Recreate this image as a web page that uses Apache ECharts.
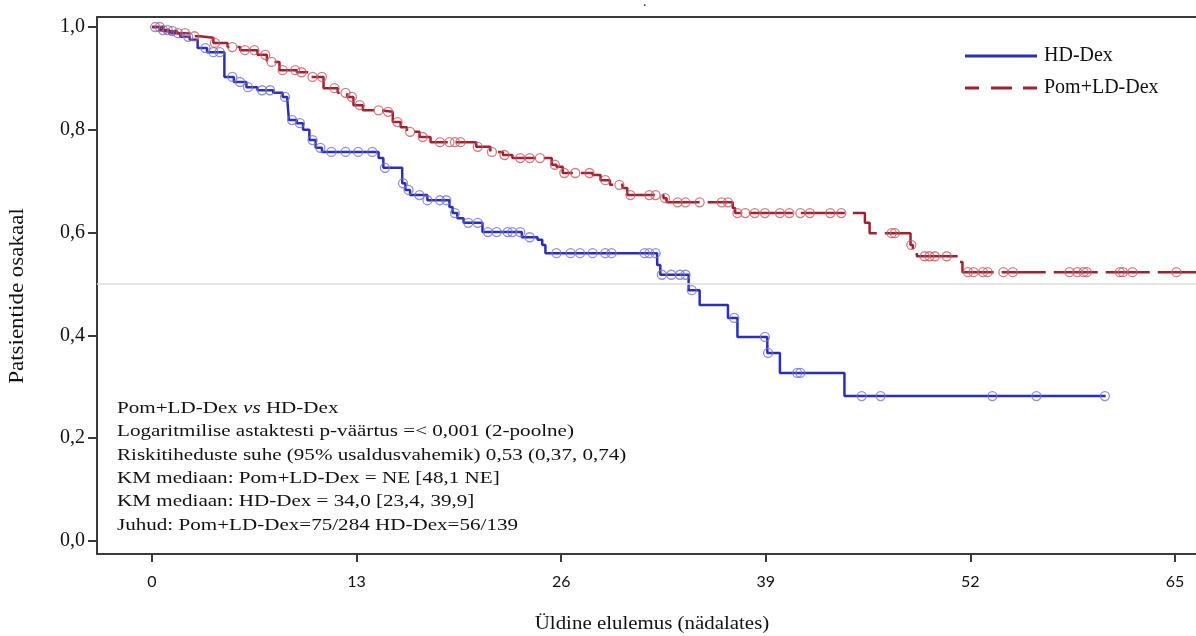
<!DOCTYPE html>
<html>
<head>
<meta charset="utf-8">
<script src="https://cdn.jsdelivr.net/npm/echarts@6/dist/echarts.min.js"></script>
<style>
  html, body { margin: 0; padding: 0; background: #fff; }
  #chart { width: 1196px; height: 636px; }
</style>
</head>
<body>
<div id="chart"></div>
<script>
// Kaplan-Meier steps [week, survival]
const hdDexSteps = [
  [0, 1], [0.5, 0.994], [1.1, 0.988], [1.8, 0.981], [2.4, 0.975], [2.9, 0.959],
  [3.5, 0.951], [4.6, 0.903], [5.2, 0.893], [6.0, 0.883], [6.7, 0.877], [7.7, 0.872],
  [8.3, 0.864], [8.6, 0.858], [8.7, 0.819], [9.2, 0.813], [9.6, 0.800], [10.0, 0.780],
  [10.4, 0.765], [10.8, 0.757], [14.4, 0.745], [14.7, 0.726], [15.9, 0.696], [16.1, 0.683],
  [16.4, 0.673], [17.5, 0.663], [18.9, 0.650], [19.1, 0.638], [19.4, 0.628], [19.8, 0.619],
  [21.0, 0.601], [23.5, 0.591], [24.5, 0.586], [24.8, 0.576], [25.0, 0.560], [32.1, 0.537],
  [32.3, 0.518], [34.1, 0.488], [34.8, 0.459], [36.6, 0.434], [37.2, 0.397], [39.1, 0.366],
  [39.9, 0.327], [44.0, 0.282], [60.6, 0.282]
];
const hdDexCensored = [
  [0.2, 1.0], [0.7, 0.994], [1.0, 0.994], [1.65, 0.988], [2.3, 0.981], [3.4, 0.959],
  [3.9, 0.951], [4.3, 0.951], [5.1, 0.903], [5.6, 0.893], [6.1, 0.883], [7.0, 0.877],
  [7.5, 0.877], [8.45, 0.864], [8.9, 0.819], [9.4, 0.813], [10.2, 0.780], [10.7, 0.765],
  [11.4, 0.757], [12.3, 0.757], [13.1, 0.757], [14.0, 0.757], [14.8, 0.726], [15.95, 0.696],
  [16.3, 0.683], [17.0, 0.673], [17.5, 0.663], [18.3, 0.663], [18.7, 0.663], [19.25, 0.638],
  [20.1, 0.619], [20.7, 0.619], [21.35, 0.601], [21.9, 0.601], [22.6, 0.601], [22.9, 0.601],
  [23.4, 0.601], [24.0, 0.591], [25.7, 0.560], [26.6, 0.560], [27.2, 0.560], [28.0, 0.560],
  [28.8, 0.560], [29.2, 0.560], [31.3, 0.560], [31.6, 0.560], [32.0, 0.560], [32.4, 0.518],
  [33.0, 0.518], [33.55, 0.518], [33.9, 0.518], [34.3, 0.488], [37.0, 0.434], [38.95, 0.397],
  [39.15, 0.366], [41.0, 0.327], [41.2, 0.327], [45.1, 0.282], [46.3, 0.282], [53.4, 0.282],
  [56.2, 0.282], [60.55, 0.282]
];
const pomSteps = [
  [0, 1], [0.7, 0.992], [1.6, 0.988], [2.4, 0.982], [3.05, 0.979], [3.9, 0.969],
  [4.8, 0.961], [5.6, 0.955], [6.7, 0.946], [7.3, 0.932], [8.1, 0.916], [9.2, 0.912],
  [10.0, 0.903], [10.9, 0.881], [11.8, 0.872], [12.4, 0.864], [12.8, 0.848], [13.4, 0.838],
  [14.5, 0.835], [15.3, 0.815], [15.8, 0.805], [16.2, 0.796], [17.0, 0.786], [17.7, 0.776],
  [20.6, 0.767], [21.5, 0.757], [22.3, 0.751], [22.9, 0.745], [25.4, 0.732], [25.7, 0.728],
  [26.1, 0.716], [28.0, 0.712], [28.5, 0.702], [29.1, 0.693], [29.9, 0.687], [30.2, 0.673],
  [32.5, 0.667], [32.7, 0.659], [36.9, 0.648], [37.05, 0.638], [45.3, 0.619], [45.6, 0.599],
  [48.2, 0.576], [48.35, 0.566], [48.6, 0.554], [51.3, 0.543], [51.5, 0.523], [66.4, 0.523]
];
const pomCensored = [
  [0.5, 1.0], [1.3, 0.992], [2.1, 0.988], [2.7, 0.982], [4.0, 0.969], [5.1, 0.961],
  [5.9, 0.955], [6.5, 0.955], [7.2, 0.946], [7.6, 0.932], [8.3, 0.916], [9.1, 0.916],
  [9.5, 0.912], [10.2, 0.903], [10.8, 0.903], [11.6, 0.881], [12.3, 0.872], [12.7, 0.864],
  [13.2, 0.848], [14.4, 0.838], [15.0, 0.835], [15.6, 0.815], [16.4, 0.796], [17.2, 0.786],
  [18.3, 0.776], [18.9, 0.776], [19.25, 0.776], [19.6, 0.776], [20.7, 0.767], [21.6, 0.757],
  [22.4, 0.751], [23.4, 0.745], [24.0, 0.745], [24.65, 0.745], [25.6, 0.732], [26.2, 0.716],
  [26.9, 0.716], [27.8, 0.716], [28.8, 0.702], [29.7, 0.693], [30.4, 0.673], [31.6, 0.673],
  [32.0, 0.673], [32.6, 0.667], [33.4, 0.659], [33.9, 0.659], [34.8, 0.659], [36.2, 0.659],
  [36.6, 0.659], [37.2, 0.638], [37.7, 0.638], [38.3, 0.638], [38.95, 0.638], [39.9, 0.638],
  [40.5, 0.638], [41.2, 0.638], [41.8, 0.638], [43.1, 0.638], [43.8, 0.638], [47.0, 0.599],
  [47.2, 0.599], [48.25, 0.576], [49.1, 0.554], [49.4, 0.554], [49.75, 0.554], [50.5, 0.554],
  [51.85, 0.523], [52.2, 0.523], [52.8, 0.523], [53.1, 0.523], [54.1, 0.523], [54.7, 0.523],
  [58.3, 0.523], [58.8, 0.523], [59.2, 0.523], [59.4, 0.523], [61.5, 0.523], [61.7, 0.523],
  [62.3, 0.523], [65.1, 0.523]
];
const xTicks = [0, 13, 26, 39, 52, 65];
const yTicks = [0, 0.2, 0.4, 0.6, 0.8, 1.0];
const infoLines = [
  'Pom+LD-Dex {i|vs} HD-Dex',
  'Logaritmilise astaktesti p-väärtus =< 0,001 (2-poolne)',
  'Riskitiheduste suhe (95% usaldusvahemik) 0,53 (0,37, 0,74)',
  'KM mediaan: Pom+LD-Dex = NE [48,1 NE]',
  'KM mediaan: HD-Dex = 34,0 [23,4, 39,9]',
  'Juhud: Pom+LD-Dex=75/284 HD-Dex=56/139'
];

const SERIF = '"Liberation Serif", "DejaVu Serif", serif';
const BLUE = '#2b2fb5';
const RED = '#a3212f';
const FRAME = '#3a3a3a';
const X_MIN = -3.495, X_MAX = 66.34;

const chart = echarts.init(document.getElementById('chart'));
chart.setOption({
  animation: false,
  backgroundColor: '#fff',
  title: {
    text: '.',
    left: 638,
    top: -10,
    textStyle: { fontFamily: SERIF, fontSize: 14, fontWeight: 'normal', color: '#222' }
  },
  grid: { left: 97, top: 17, right: 0, bottom: 82 },
  legend: {
    orient: 'vertical',
    left: 960,
    top: 41,
    itemWidth: 72,
    itemHeight: 3,
    itemGap: 12,
    textStyle: { fontFamily: SERIF, fontSize: 20, color: '#111', padding: [0, 0, 0, 2] },
    data: [
      { name: 'HD-Dex', icon: 'rect' },
      { name: 'Pom+LD-Dex', icon: 'path://M0,0h14v3h-14z M26,0h21v3h-21z M58,0h14v3h-14z' }
    ]
  },
  xAxis: [
    {
      type: 'value',
      min: X_MIN,
      max: X_MAX,
      splitLine: { show: false },
      axisLine: { show: true, onZero: false, lineStyle: { color: FRAME, width: 2 } },
      axisTick: { show: true, customValues: xTicks, length: 8, lineStyle: { color: FRAME, width: 2 } },
      axisLabel: {
        customValues: xTicks,
        margin: 20,
        fontFamily: 'Lato, "Open Sans", sans-serif',
        fontSize: 16,
        color: '#111'
      }
    },
    {
      // top frame line only
      type: 'value',
      position: 'top',
      min: X_MIN,
      max: X_MAX,
      splitLine: { show: false },
      axisLine: { show: true, onZero: false, lineStyle: { color: FRAME, width: 2 } },
      axisTick: { show: false },
      axisLabel: { show: false }
    }
  ],
  yAxis: {
    type: 'value',
    min: -0.0253,
    max: 1.0195,
    splitLine: { show: false },
    axisLine: { show: true, onZero: false, lineStyle: { color: FRAME, width: 2 } },
    axisTick: { show: true, customValues: yTicks, length: 9, lineStyle: { color: FRAME, width: 2 } },
    axisLabel: {
      customValues: yTicks,
      margin: 12,
      fontFamily: SERIF,
      fontSize: 20,
      color: '#111',
      formatter: v => v.toFixed(1).replace('.', ',')
    }
  },
  graphic: [
    {
      type: 'text',
      x: 18, y: 296,
      rotation: Math.PI / 2,
      scaleX: 1.15,
      style: {
        text: 'Patsientide osakaal',
        font: '20px ' + SERIF,
        fill: '#111',
        align: 'center',
        verticalAlign: 'middle'
      }
    },
    {
      type: 'text',
      x: 652, y: 624,
      scaleX: 1.1,
      style: {
        text: 'Üldine elulemus (nädalates)',
        font: '19px ' + SERIF,
        fill: '#111',
        align: 'center',
        verticalAlign: 'middle'
      }
    },
    {
      type: 'text',
      x: 117,
      y: 397,
      scaleX: 1.24,
      z: 100,
      style: {
        text: infoLines.join('\n'),
        font: '17px ' + SERIF,
        fill: '#111',
        verticalAlign: 'top',
        lineHeight: 23.3,
        rich: {
          i: { fontStyle: 'italic', fontFamily: SERIF, fontSize: 17, fill: '#111', lineHeight: 23.3 }
        }
      }
    }
  ],
  series: [
    {
      name: 'HD-Dex',
      type: 'line',
      step: 'end',
      showSymbol: false,
      color: BLUE,
      lineStyle: { color: BLUE, width: 2.5 },
      data: hdDexSteps,
      z: 3,
      markLine: {
        silent: true,
        symbol: 'none',
        label: { show: false },
        lineStyle: { color: '#dcdcdc', width: 1.5, type: 'solid' },
        data: [{ yAxis: 0.5 }]
      }
    },
    {
      name: 'HD-Dex censored',
      type: 'scatter',
      symbol: 'circle',
      symbolSize: 9,
      itemStyle: { color: 'rgba(255,255,255,0)', borderColor: '#6f72d6', borderWidth: 1.3 },
      data: hdDexCensored,
      z: 4
    },
    {
      name: 'Pom+LD-Dex',
      type: 'line',
      step: 'end',
      showSymbol: false,
      color: RED,
      lineStyle: { color: RED, width: 2.5, type: [44, 8] },
      data: pomSteps,
      z: 3
    },
    {
      name: 'Pom+LD-Dex censored',
      type: 'scatter',
      symbol: 'circle',
      symbolSize: 9,
      itemStyle: { color: 'rgba(255,255,255,0)', borderColor: '#c45a63', borderWidth: 1.3 },
      data: pomCensored,
      z: 4
    }
  ]
});
</script>
</body>
</html>
